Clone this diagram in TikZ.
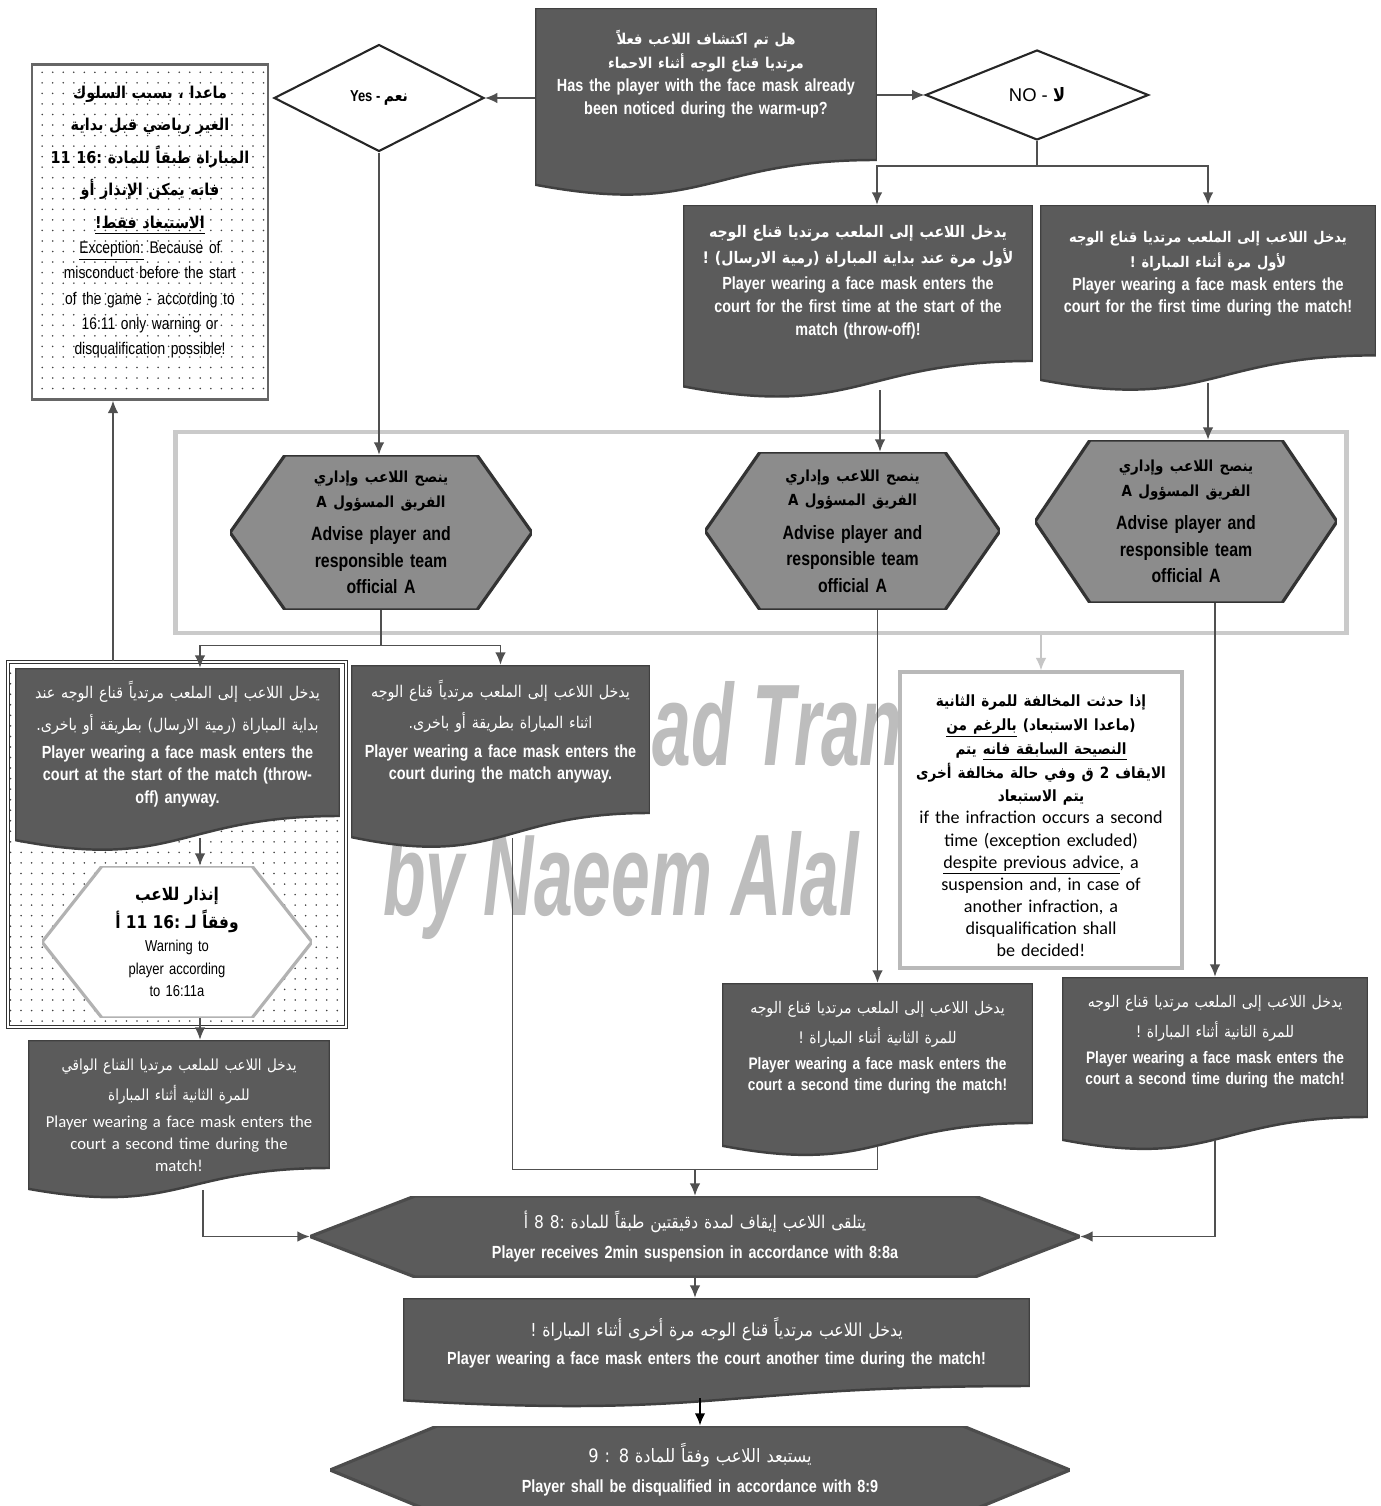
\documentclass[tikz,border=0pt]{standalone}
\usepackage{fontspec}
\usetikzlibrary{shapes.geometric,arrows.meta,calc,patterns.meta}
\TeXXeTstate=1
\setmainfont{Liberation Sans}
\newfontfamily\nar{Liberation Sans}[FakeStretch=0.82]
\newfontfamily\wmfont{Liberation Sans}[FakeStretch=0.6]
\newfontfamily\arabicfont[Script=Arabic, FakeStretch=0.88]{DejaVu Sans}
\newfontfamily\carl{Carlito}
\definecolor{boxgray}{HTML}{5B5B5B}
\definecolor{hexgray}{HTML}{8C8C8C}
\definecolor{linegray}{HTML}{505050}
\definecolor{framegray}{HTML}{CACACA}
\definecolor{markgray}{HTML}{BDBDBD}
\newcommand{\arl}[1]{\beginR #1\endR}

\begin{document}
\begin{tikzpicture}[x=0.02cm,y=-0.02cm,
  hexa/.style n args={3}{inner sep=0pt, align=center, path picture={
    \filldraw[fill=#2, draw=#3, line width=1.8pt]
      (path picture bounding box.west) -- ([xshift=#1]path picture bounding box.north west)
      -- ([xshift=-#1]path picture bounding box.north east) -- (path picture bounding box.east)
      -- ([xshift=-#1]path picture bounding box.south east) -- ([xshift=#1]path picture bounding box.south west) -- cycle;}}]
	\tikzstyle{doc} = [inner sep=0pt, path picture={
	  \filldraw[fill=boxgray, draw=black!75, line width=1.4pt]
	    (path picture bounding box.north west) -- (path picture bounding box.north east)
	    -- ($(path picture bounding box.north east)!0.8!(path picture bounding box.south east)$)
	    .. controls ($(path picture bounding box.north)!0.8!(path picture bounding box.south)$)
	    and ($(path picture bounding box.north)!1.1!(path picture bounding box.south)$)
	    .. ($(path picture bounding box.north west)!0.93!(path picture bounding box.south west)$) -- cycle;}]
	\tikzstyle{wtxt} = [text=white, align=center, inner sep=0pt, font=\nar\bfseries\fontsize{10}{13}\selectfont]
	\tikzstyle{choice} = [diamond, draw=black!85, line width=1.2pt, fill=white, inner sep=0pt, font=\nar\bfseries\fontsize{9}{11}\selectfont]
	\tikzstyle{adv} = [minimum width=6.04cm, text width=5cm, font=\nar\bfseries\fontsize{11}{15}\selectfont]
	\tikzstyle{dotted box} = [align=center, inner sep=0pt, pattern={Dots[distance=6pt,radius=0.5pt]}, pattern color=black!75]
	\tikzstyle{wmark} = [text=markgray, inner sep=0pt, font=\wmfont\bfseries\itshape\fontsize{66}{70}\selectfont]
	\tikzstyle{line} = [draw=linegray, line width=0.85pt]
	\tikzstyle{arr} = [line, -{Latex[length=7pt,width=6pt]}]

	\useasboundingbox (0,0) rectangle (1381,1506);
	\clip (0,0) rectangle (1381,1506);
	\fill[white] (0,0) rectangle (1381,1506);

	% watermark
	\node[wmark, anchor=base west] (wm1) at (652,765) {ad Tran};
	\node[wmark, anchor=base west] (wm2) at (383,915) {by Naeem Alal};

	% question
	\node[doc, minimum width=6.84cm, minimum height=3.8cm] (q) at (706,103) {};
	\node[wtxt, text width=6.6cm] (qt) at (706,74) {{\arabicfont\fontsize{8.5}{14}\selectfont \arl{هل تم اكتشاف اللاعب فعلاً}\\ \arl{مرتديا قناع الوجه أثناء الاحماء}\par}
		Has the player with the face mask already\\ been noticed during the warm-up?};
	\node[choice, minimum width=4.2cm, minimum height=2.14cm] (yes) at (379,98) {Yes - {\arabicfont\arl{نعم}}};
	\node[choice, minimum width=4.46cm, minimum height=1.8cm, font=\mdseries\fontsize{10.5}{12}\selectfont] (no) at (1037,95) {NO - {\arabicfont\bfseries لا}};

	% exception
	\node[dotted box, draw=black!60, line width=1.5pt, minimum width=4.72cm, minimum height=6.7cm] (t) at (150,232) {};
	\node[align=center, inner sep=0pt, text width=4.6cm, font=\nar\fontsize{9.6}{14.4}\selectfont] (tt) at (150,222) {{\arabicfont\bfseries\fontsize{9.3}{18.5}\selectfont \arl{ماعدا ، بسبب السلوك}\\ \arl{الغير رياضي قبل بداية}\\ \arl{المباراة طبقاً للمادة \beginL 11 :{}16\endL}\\ \arl{فانه يمكن الإنذار أو}\\ \underline{\arl{الاستبعاد فقط!}}\par}
		\underline{Exception:} Because of\\ misconduct before the start\\ of the game - according to\\ 16:11 only warning or\\ disqualification possible!};

	% first entry
	\node[doc, minimum width=7.0cm, minimum height=3.9cm] (c1) at (858,302.5) {};
	\node[wtxt, text width=6.8cm] (c1t) at (858,282) {{\arabicfont\fontsize{9.1}{15}\selectfont \arl{يدخل اللاعب إلى الملعب مرتديا قناع الوجه}\\ \arl{لأول مرة عند بداية المباراة (رمية الارسال) !}\par}\vspace{2pt}
		Player wearing a face mask enters the\\ court for the first time at the start of the\\ match (throw-off)!};
	\node[doc, minimum width=6.72cm, minimum height=3.76cm] (c2) at (1208,299) {};
	\node[wtxt, text width=6.5cm] (c2t) at (1208,274) {{\arabicfont\fontsize{8.4}{14}\selectfont \arl{يدخل اللاعب إلى الملعب مرتديا قناع الوجه}\\ \arl{لأول مرة أثناء المباراة !}\par}
		Player wearing a face mask enters the\\ court for the first time during the match!};

	% advice
	\node[draw=framegray, line width=2.8pt, minimum width=23.44cm, minimum height=4.02cm] (fr) at (761,532.5) {};
	\node[hexa={1.1cm}{hexgray}{black!80}, adv, minimum height=3.1cm] (h1) at (381,532.5) {{\arabicfont\fontsize{8.7}{14}\selectfont \arl{ينصح اللاعب وإداري}\\ \arl{الفريق المسؤول A}\par}\vspace{4pt} Advise player and\\ responsible team\\ official A};
	\node[hexa={1.1cm}{hexgray}{black!80}, adv, minimum width=5.9cm, minimum height=3.16cm] (h2) at (852.5,531) {{\arabicfont\fontsize{8.7}{14}\selectfont \arl{ينصح اللاعب وإداري}\\ \arl{الفريق المسؤول A}\par}\vspace{4pt} Advise player and\\ responsible team\\ official A};
	\node[hexa={1.1cm}{hexgray}{black!80}, adv, minimum height=3.26cm] (h3) at (1186,521.5) {{\arabicfont\fontsize{8.7}{14}\selectfont \arl{ينصح اللاعب وإداري}\\ \arl{الفريق المسؤول A}\par}\vspace{4pt} Advise player and\\ responsible team\\ official A};

	% yes branch
	\node[dotted box, draw=black!80, double=white, double distance=1pt, line width=0.7pt, minimum width=6.76cm, minimum height=7.3cm] (lframe) at (177,844.5) {};
	\node[doc, minimum width=6.5cm, minimum height=3.7cm] (l1) at (177.5,760.5) {};
	\node[wtxt, text width=6.4cm] (l1t) at (177.5,744.5) {{\arabicfont\mdseries\fontsize{9.2}{18}\selectfont \arl{يدخل اللاعب إلى الملعب مرتدياً قناع الوجه عند}\\ \arl{بداية المباراة (رمية الارسال) بطريقة أو باخرى.}\par}\vspace{3pt}
		Player wearing a face mask  enters the\\ court at the start of the  match (throw-\\ off) anyway.};
	\node[doc, minimum width=5.98cm, minimum height=3.7cm] (m1) at (500.5,757.5) {};
	\node[wtxt, text width=5.8cm] (m1t) at (500.5,732) {{\arabicfont\mdseries\fontsize{9.2}{18}\selectfont \arl{يدخل اللاعب إلى الملعب مرتدياً قناع الوجه}\\ \arl{اثناء المباراة بطريقة أو باخرى.}\par}\vspace{3pt}
		Player wearing a face mask enters the\\ court during the match  anyway.};
	\node[hexa={1.2cm}{white}{gray!60}, minimum width=5.4cm, minimum height=3.04cm, text width=4cm, font=\nar\fontsize{9}{13}\selectfont] (w) at (177,942) {{\arabicfont\bfseries\fontsize{10}{16}\selectfont \arl{إنذار للاعب}\\ \arl{وفقاً لـ \beginL 11 :{}16\endL{} أ}\par} Warning to\\ player according\\ to 16:11a};
	\node[doc, minimum width=6.04cm, minimum height=3.2cm] (l2) at (179,1120) {};
	\node[wtxt, text width=5.9cm, font=\carl\fontsize{9.5}{12.5}\selectfont] (l2t) at (179,1115) {{\arabicfont\fontsize{8.7}{17}\selectfont \arl{يدخل اللاعب للملعب مرتديا القناع الواقي}\\ \arl{للمرة الثانية أثناء المباراة}\par}\vspace{3pt}
		Player wearing a face mask enters the\\ court a second time during the\\ match!};

	% second time
	\node[draw=gray!55, line width=2pt, fill=white, minimum width=5.64cm, minimum height=5.92cm] (x) at (1041,820) {};
	\node[align=center, inner sep=0pt, text width=5.4cm, font=\carl\fontsize{10.3}{12.6}\selectfont] (xt) at (1041,826) {{\arabicfont\bfseries\fontsize{8.8}{13.5}\selectfont \arl{إذا حدثت المخالفة للمرة الثانية}\\ \arl{(ماعدا الاستبعاد) \underline{\beginR بالرغم من\endR}}\\ \arl{\underline{\beginR النصيحة السابقة فانه\endR} يتم}\\ \arl{الايقاف 2 ق وفي حالة مخالفة أخرى}\\ \arl{يتم الاستبعاد}\par}
		if the infraction occurs a second\\ time (exception excluded)\\ \underline{despite previous advice}, a\\ suspension and, in case of\\ another infraction, a\\ disqualification shall\\ be decided!};
	\node[doc, minimum width=6.22cm, minimum height=3.5cm] (m2) at (877.5,1070.5) {};
	\node[wtxt, text width=6.1cm, font=\nar\bfseries\fontsize{9.5}{12}\selectfont] (m2t) at (877.5,1048) {{\arabicfont\mdseries\fontsize{9.1}{17}\selectfont \arl{يدخل اللاعب إلى الملعب مرتديا قناع الوجه}\\ \arl{للمرة الثانية أثناء المباراة !}\par}\vspace{3pt}
		Player wearing a face mask enters the\\ court a second time during the match!};
	\node[doc, minimum width=6.12cm, minimum height=3.5cm] (r2) at (1215,1064.5) {};
	\node[wtxt, text width=6cm, font=\nar\bfseries\fontsize{9.5}{12}\selectfont] (r2t) at (1215,1042) {{\arabicfont\mdseries\fontsize{9.1}{17}\selectfont \arl{يدخل اللاعب إلى الملعب مرتديا قناع الوجه}\\ \arl{للمرة الثانية أثناء المباراة !}\par}\vspace{3pt}
		Player wearing a face mask enters the\\ court a second time during the match!};

	% penalties
	\node[hexa={2.1cm}{boxgray}{black!70}, minimum width=15.4cm, minimum height=1.62cm, text width=13cm, text=white, font=\nar\bfseries\fontsize{10}{13}\selectfont] (s) at (695,1236.5) {{\arabicfont\mdseries\fontsize{10}{15}\selectfont \arl{يتلقى اللاعب إيقاف لمدة دقيقتين طبقاً للمادة \beginL 8 :{}8\endL{} أ}\par}\vspace{4pt}
		Player receives 2min suspension in accordance with 8:8a};
	\node[doc, minimum width=12.54cm, minimum height=2.2cm] (p) at (716.5,1353) {};
	\node[wtxt, text width=12.2cm] (pt) at (716.5,1343) {{\arabicfont\mdseries\fontsize{10.2}{15}\selectfont \arl{يدخل اللاعب مرتدياً قناع الوجه مرة أخرى أثناء المباراة !}\par}\vspace{3pt}
		Player wearing a face mask enters the court another time during the match!};
	\node[hexa={2.14cm}{boxgray}{black!70}, minimum width=14.8cm, minimum height=1.76cm, text width=12cm, text=white, font=\nar\bfseries\fontsize{10}{13}\selectfont] (d) at (700,1470) {{\arabicfont\mdseries\fontsize{10.5}{15}\selectfont \arl{يستبعد اللاعب وفقاً للمادة \beginL 9 : 8\endL}\par}\vspace{4pt}
		Player shall be disqualified in accordance with 8:9};

	% connectors
	\draw[arr] (q.west |- yes) -- (yes.east);
	\draw[arr] (q.east |- no) -- (no.west);
	\draw[line] (no.south) -- ++(0,25) coordinate (nj);
	\draw[arr] (nj) -| ([xshift=0.38cm]c1.north);
	\draw[arr] (nj) -| (c2.north);
	\draw[arr] (yes.south) -- (yes.south |- h1.north);
	\draw[arr] ([xshift=0.44cm,yshift=0.2cm]c1.south) -- ([xshift=0.44cm]c1.south |- h2.north);
	\draw[arr] ([yshift=0.2cm]c2.south) -- (c2.south |- h3.north);
	\draw[line] (h1.south) -- ++(0,35) coordinate (hj);
	\draw[arr] (hj) -| ([xshift=0.45cm]l1.north);
	\draw[arr] (hj) -| (m1.north);
	\draw[arr] ([xshift=-0.74cm]t.south |- lframe.north) -- ([xshift=-0.74cm]t.south);
	\draw[arr] ([xshift=0.45cm,yshift=0.3cm]l1.south) -- ([xshift=0.45cm]l1.south |- w.north);
	\draw[arr] ([xshift=0.46cm]w.south) -- ([xshift=0.46cm]w.south |- l2.north);
	\draw[arr] ([xshift=0.48cm,yshift=0.2cm]l2.south) |- (s.west);
	\path (s.north) ++(0,-26) coordinate (sj);
	\draw[line] ([xshift=0.24cm,yshift=0.24cm]m1.south) |- (sj);
	\draw[line] ([yshift=0.24cm]m2.south) |- (sj);
	\draw[arr] (sj) -- (s.north);
	\draw[arr] (h2.south -| m2.north) -- (m2.north);
	\draw[arr] (h3.south -| r2.north) -- (r2.north);
	\draw[arr, draw=gray!45] (fr.south -| x.north) -- (x.north);
	\draw[arr] ([yshift=0.24cm]r2.south) |- (s.east);
	\draw[arr] (s.south) -- (s.south |- p.north);
	\draw[arr, draw=black, line width=1.2pt] ([yshift=0.2cm]p.south -| d.north) -- (d.north);
\end{tikzpicture}
\end{document}
